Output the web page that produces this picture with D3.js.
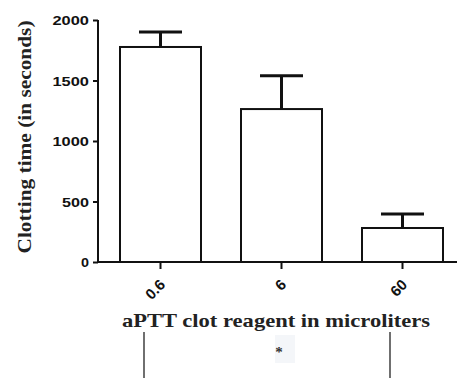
<!DOCTYPE html>
<html><head><meta charset="utf-8">
<script src="https://cdn.jsdelivr.net/npm/d3@7/dist/d3.min.js"></script>
<style>body{margin:0;background:#fff}svg{display:block}</style>
</head><body>
<svg id="c" width="457" height="378"></svg>
<script>
const categories = ["0.6", "6", "60"];
const means = [1777, 1264, 281];
const errors = [124, 276, 116];
const yTicks = [0, 500, 1000, 1500, 2000];

const svg = d3.select("#c");
const x = d3.scaleBand().domain(categories).range([120, 443]).paddingInner(40/121).paddingOuter(0);
const y = d3.scaleLinear().domain([0, 2000]).range([262, 20]);
const axisX = 98;

// bars
svg.selectAll("rect.bar").data(categories).enter().append("rect")
  .attr("x", d => x(d)).attr("y", (d,i) => y(means[i]))
  .attr("width", x.bandwidth()).attr("height", (d,i) => y(0) - y(means[i]))
  .attr("fill", "#fff").attr("stroke", "#111").attr("stroke-width", 2);

// error bars
const capW = 43;
categories.forEach((c,i) => {
  const cx = x(c) + x.bandwidth()/2;
  svg.append("line").attr("x1", cx).attr("x2", cx).attr("y1", y(means[i])).attr("y2", y(means[i]+errors[i]))
    .attr("stroke", "#111").attr("stroke-width", 3);
  svg.append("line").attr("x1", cx-capW/2).attr("x2", cx+capW/2).attr("y1", y(means[i]+errors[i])).attr("y2", y(means[i]+errors[i]))
    .attr("stroke", "#111").attr("stroke-width", 3);
});

// y axis
const gy = svg.append("g").attr("transform", `translate(${axisX},0)`)
  .call(d3.axisLeft(y).tickValues(yTicks).tickSize(5).tickPadding(4).tickFormat(d3.format("d")));
gy.select(".domain").attr("stroke", "#111").attr("stroke-width", 2).attr("d", `M0,${y(2000)}H0V${y(0)}`);
gy.selectAll(".tick line").attr("stroke", "#111").attr("stroke-width", 2);
gy.selectAll(".tick text").attr("font-family", "Liberation Sans, Arial, sans-serif").attr("font-weight", "bold")
  .attr("font-size", 13.5).attr("fill", "#111").attr("dy", "0.36em")
  .attr("textLength", d => String(d).length * 9.5 - 1.5).attr("lengthAdjust", "spacingAndGlyphs");

// x axis
const gx = svg.append("g").attr("transform", `translate(0,${y(0)})`)
  .call(d3.axisBottom(x).tickSize(7).tickPadding(8));
gx.select(".domain").attr("stroke", "#111").attr("stroke-width", 2).attr("d", `M${axisX-1},0H457`);
gx.selectAll(".tick line").attr("stroke", "#111").attr("stroke-width", 2);
gx.selectAll(".tick text").attr("font-family", "Liberation Sans, Arial, sans-serif").attr("font-weight", "bold")
  .attr("font-size", 15).attr("fill", "#111").attr("text-anchor", "end")
  .attr("x", 0).attr("y", 0).attr("dy", "0.35em")
  .attr("transform", "translate(2,20) rotate(-45)");

// axis titles
svg.append("text").attr("x", 276).attr("y", 327).attr("text-anchor", "middle")
  .attr("font-family", "Liberation Serif, Times New Roman, serif").attr("font-weight", "bold")
  .attr("font-size", 19).attr("fill", "#222")
  .attr("textLength", 308).attr("lengthAdjust", "spacingAndGlyphs")
  .text("aPTT clot reagent in microliters");
svg.append("text").attr("transform", "translate(31,137) rotate(-90)").attr("text-anchor", "middle")
  .attr("font-family", "Liberation Serif, Times New Roman, serif").attr("font-weight", "bold")
  .attr("font-size", 19).attr("fill", "#222")
  .attr("textLength", 233).attr("lengthAdjust", "spacingAndGlyphs")
  .text("Clotting time (in seconds)");

// annotation lines below
[144, 390].forEach(lx => svg.append("line").attr("x1", lx).attr("x2", lx).attr("y1", 332).attr("y2", 378)
  .attr("stroke", "#222").attr("stroke-width", 1.3));
svg.append("rect").attr("x", 275).attr("y", 335).attr("width", 20).attr("height", 28).attr("fill", "#f4f6f9");
svg.append("text").attr("x", 279).attr("y", 357).attr("text-anchor", "middle")
  .attr("font-family", "Liberation Serif, serif").attr("font-weight", "bold").attr("font-size", 15).attr("fill", "#333").text("*");
</script>
</body></html>
